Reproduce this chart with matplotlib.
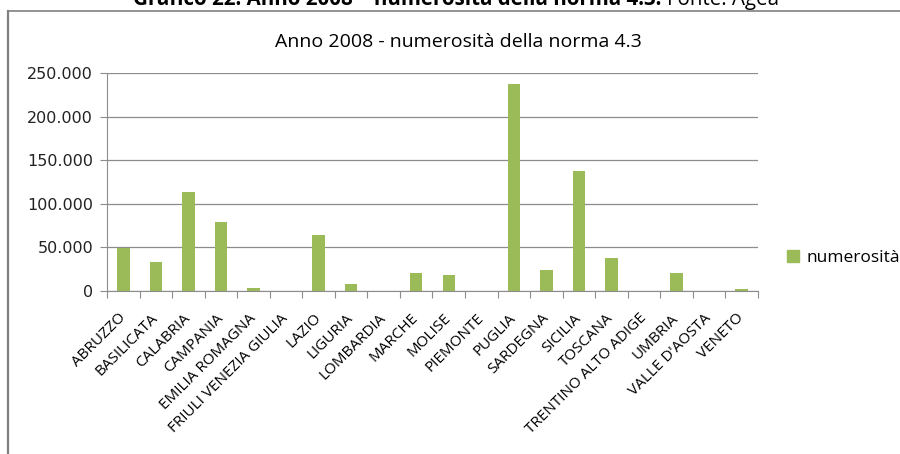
import numpy as np
import matplotlib.pyplot as plt
from matplotlib.ticker import FuncFormatter, MultipleLocator
from matplotlib.lines import Line2D
from matplotlib.patches import Patch

regioni = ["ABRUZZO", "BASILICATA", "CALABRIA", "CAMPANIA", "EMILIA ROMAGNA",
           "FRIULI VENEZIA GIULIA", "LAZIO", "LIGURIA", "LOMBARDIA", "MARCHE",
           "MOLISE", "PIEMONTE", "PUGLIA", "SARDEGNA", "SICILIA", "TOSCANA",
           "TRENTINO ALTO ADIGE", "UMBRIA", "VALLE D'AOSTA", "VENETO"]
numerosita = [49700, 33000, 113700, 79600, 3400,
              0, 64000, 8000, 0, 20700,
              18800, 0, 237300, 24000, 137800, 38300,
              0, 21000, 0, 2300]

green = "#9bbb59"
grid_c = "#8c8c8c"

fig = plt.figure(figsize=(9, 4.54), dpi=100)
ax = fig.add_axes([0.119, 0.359, 0.723, 0.480])

x = np.arange(len(regioni))
ax.bar(x, numerosita, width=0.38, color=green, zorder=2)

ax.set_xlim(-0.5, len(regioni) - 0.5)
ax.set_ylim(0, 250000)
ax.yaxis.set_major_locator(MultipleLocator(50000))
ax.yaxis.set_major_formatter(FuncFormatter(lambda v, p: f"{int(v):,}".replace(",", ".")))
ax.grid(axis="y", color=grid_c, lw=0.9, zorder=0)

for s in ["top", "right"]:
    ax.spines[s].set_visible(False)
ax.spines["left"].set_color(grid_c)
ax.spines["bottom"].set_color(grid_c)

# category ticks sit between the bars, labels sit under each bar
ax.set_xticks(np.arange(-0.5, len(regioni), 1.0))
ax.set_xticklabels([])
ax.set_xticks(x, minor=True)
ax.set_xticklabels(regioni, minor=True, rotation=45, ha="right", va="center",
                   rotation_mode="anchor", fontsize=11, family="Open Sans")
ax.tick_params(axis="x", which="major", length=5, color=grid_c)
ax.tick_params(axis="x", which="minor", length=0, pad=18)
ax.tick_params(axis="y", length=5, color=grid_c, labelsize=11.5, pad=5)
for t in ax.get_yticklabels():
    t.set_family("DejaVu Sans")
    t.set_color("#222222")

fig.text(0.509, 0.907, "Anno 2008 - numerosità della norma 4.3", ha="center",
         va="center", fontsize=14, family="Open Sans")

fig.legend(handles=[Patch(color=green)], labels=["numerosità"],
           loc="center left", bbox_to_anchor=(0.857, 0.432), frameon=False,
           handlelength=0.7, handleheight=0.7, handletextpad=0.4,
           prop={"family": "Open Sans", "size": 12.5})

# outer chart frame (left and top edges)
fig.add_artist(Line2D([0.009, 0.009], [0.0, 0.975], color="#808080", lw=1.6,
                      transform=fig.transFigure))
fig.add_artist(Line2D([0.009, 1.0], [0.975, 0.975], color="#808080", lw=1.2,
                      transform=fig.transFigure))

# caption above the chart frame, partly cut by the page edge
cap_bold = fig.text(0.148, 0.988, "Grafico 22: Anno 2008 – numerosità della norma 4.3.",
                    ha="left", va="baseline", fontsize=14.8, fontweight="bold",
                    family="Open Sans")
fig.canvas.draw()
bb = cap_bold.get_window_extent()
fig.text(bb.x1 + 5, bb.y0, "Fonte: Agea", ha="left", va="bottom",
         fontsize=14.8, family="Open Sans", transform=None)

fig.savefig("out.png", dpi=100)
